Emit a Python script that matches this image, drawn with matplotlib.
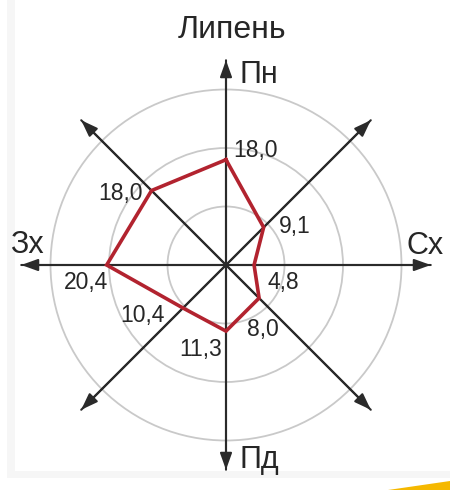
import numpy as np
import matplotlib
matplotlib.use("Agg")
import matplotlib.pyplot as plt
from matplotlib.patches import Circle, Rectangle, Polygon, FancyArrowPatch

# ---- data ----
title = "Липень"
directions = ["Пн", "ПнСх", "Сх", "ПдСх", "Пд", "ПдЗх", "Зх", "ПнЗх"]
angles_deg = [90, 45, 0, -45, -90, -135, 180, 135]
values = [18.0, 9.1, 4.8, 8.0, 11.3, 10.4, 20.4, 18.0]
value_labels = ["18,0", "9,1", "4,8", "8,0", "11,3", "10,4", "20,4", "18,0"]
main_dir_labels = ["Пн", "Сх", "Пд", "Зх"]
rings = [10, 20, 30]
axis_len = 35

W, H = 450, 490
cx, cy = 226, 265          # centre in pixels (from top-left)
s = 5.85                   # pixels per unit

fig = plt.figure(figsize=(W / 100, H / 100), dpi=100)
fig.patch.set_facecolor("white")
ax = fig.add_axes([0, 0, 1, 1])
ax.set_xlim(-cx / s, (W - cx) / s)
ax.set_ylim(-(H - cy) / s, cy / s)
ax.set_aspect("equal")
ax.axis("off")

def px(x, y):
    """pixel (top-left origin) -> data"""
    return ((x - cx) / s, (cy - y) / s)

# background panel
x0, y0 = px(7, 478)
ax.add_patch(Rectangle((x0, y0), (W - 7) / s, 478 / s, facecolor="#f6f6f6",
                       edgecolor="none", zorder=0))
x0, y0 = px(15, 471)
ax.add_patch(Rectangle((x0, y0), (W - 15) / s, 471 / s, facecolor="white",
                       edgecolor="none", zorder=0.5))
# golden swoosh
ax.add_patch(Polygon([px(388, 490), px(450, 481), px(450, 490)], closed=True,
                     facecolor="#f5b800", edgecolor="none", zorder=0.6))

# rings
for r in rings:
    ax.add_patch(Circle((0, 0), r, fill=False, edgecolor="#c9c9c9", lw=1.3, zorder=1))

# axes arrows
for a in angles_deg:
    t = np.deg2rad(a)
    ex, ey = axis_len * np.cos(t), axis_len * np.sin(t)
    ax.add_patch(FancyArrowPatch((-ex, -ey), (ex, ey),
                                 arrowstyle="-|>,head_length=0.5,head_width=0.18",
                                 mutation_scale=20, lw=1.5, color="#2a2a2a",
                                 shrinkA=0, shrinkB=0, zorder=2))

# polygon
th = np.deg2rad(angles_deg)
xs = np.array(values) * np.cos(th)
ys = np.array(values) * np.sin(th)
ax.plot(np.append(xs, xs[0]), np.append(ys, ys[0]), color="#b2232f", lw=2.6,
        solid_joinstyle="miter", zorder=3)

# value labels (pixel offsets, ha)
offsets = [(7, 9, "left"), (15, 1, "left"), (13, -17, "left"), (-12, -31, "left"),
           (-4, -18, "right"), (-18, -7, "right"), (1, -17, "right"), (-9, -3, "right")]
for x, y, lab, (dx, dy, ha) in zip(xs, ys, value_labels, offsets):
    ax.annotate(lab, (x, y), xytext=(dx, dy), textcoords="offset pixels",
                ha=ha, va="center", fontsize=16.5, color="#262626",
                family="Liberation Sans", zorder=4)

# direction labels
dir_pos = [(240, 75, "left"), (406, 246, "left"), (240, 460, "left"), (44, 245, "right")]
for lab, (x, y, ha) in zip(main_dir_labels, dir_pos):
    ax.text(*px(x, y), lab, ha=ha, va="center", fontsize=22, color="#262626",
            family="Liberation Sans", zorder=4)

ax.text(*px(232, 30), title, ha="center", va="center", fontsize=23,
        color="#262626", family="Liberation Sans")

fig.savefig("out.png", dpi=100, facecolor="white")
